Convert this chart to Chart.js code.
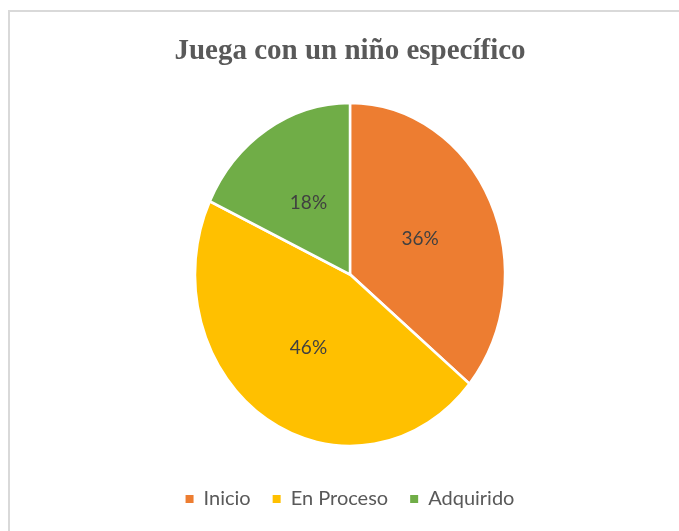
<!DOCTYPE html>
<html>
<head>
<meta charset="utf-8">
<script src="https://cdn.jsdelivr.net/npm/chart.js@4/dist/chart.umd.min.js"></script>
<style>
  html, body { margin: 0; padding: 0; background: #fff; overflow: hidden; width: 679px; height: 531px; }
  #frame { position: absolute; left: 8px; top: 10px; width: 700px; height: 540px;
           border-top: 2px solid #d9d9d9; border-left: 2px solid #d9d9d9; }
  #wrap { position: absolute; left: 0; top: 0; width: 700px; height: 531px; }
</style>
</head>
<body>
<div id="frame"></div>
<div id="wrap"><canvas id="c" width="700" height="531"></canvas></div>
<script>
const titleText = "Juega con un niño específico";
const categories = ["Inicio", "En Proceso", "Adquirido"];
const values = [36, 46, 18];
const colors = ["#ED7D31", "#FFC000", "#70AD47"];

const SY = 1.107;
const ovalPlugin = {
  id: 'oval',
  beforeDatasetsDraw(chart) {
    const arc = chart.getDatasetMeta(0).data[0];
    const ctx = chart.ctx;
    ctx.save();
    ctx.translate(0, arc.y);
    ctx.scale(1, SY);
    ctx.translate(0, -arc.y);
  },
  afterDatasetsDraw(chart) {
    const ctx = chart.ctx;
    ctx.restore();
    const meta = chart.getDatasetMeta(0);
    const total = values.reduce((a, b) => a + b, 0);
    ctx.save();
    ctx.font = '19px Lato';
    ctx.fillStyle = '#404040';
    ctx.textAlign = 'center';
    ctx.textBaseline = 'middle';
    meta.data.forEach((el, i) => {
      const p = el.tooltipPosition();
      const y = el.y + (p.y - el.y) * SY + 1;
      ctx.fillText(Math.round(values[i] / total * 100) + '%', p.x, y);
    });
    ctx.restore();
  }
};

new Chart(document.getElementById('c'), {
  type: 'pie',
  data: {
    labels: categories,
    datasets: [{
      data: values,
      backgroundColor: colors,
      borderColor: '#ffffff',
      borderWidth: 2.5,
      radius: 155
    }]
  },
  options: {
    responsive: false,
    animation: false,
    layout: { padding: { bottom: 12 } },
    plugins: {
      tooltip: { enabled: false },
      title: {
        display: true,
        text: titleText,
        color: '#595959',
        font: { family: '"Liberation Serif", "Times New Roman", serif', size: 29, weight: 'bold' },
        padding: { top: 34, bottom: 13 }
      },
      legend: {
        display: true,
        position: 'bottom',
        labels: {
          color: '#595959',
          font: { family: 'Lato', size: 20 },
          boxWidth: 8,
          boxHeight: 8,
          padding: 22,
          generateLabels(chart) {
            const items = Chart.overrides.pie.plugins.legend.labels.generateLabels(chart);
            items.forEach(it => { it.strokeStyle = it.fillStyle; it.lineWidth = 0; });
            return items;
          }
        }
      }
    }
  },
  plugins: [ovalPlugin]
});
</script>
</body>
</html>
